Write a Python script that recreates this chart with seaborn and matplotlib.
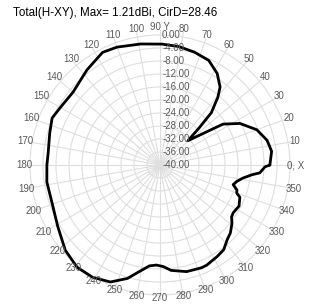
import numpy as np
import pandas as pd
import matplotlib
matplotlib.use("Agg")
import matplotlib.pyplot as plt
import seaborn as sns

# Pattern: angle (deg) and gain (dB)
angle_deg = [0, 7, 13, 20, 27.5, 33, 35.5, 41, 43.5, 45.5, 49.5, 52.4, 58, 65, 73, 81,
             89, 99, 110, 117, 127.5, 140, 150, 156.5, 164, 174, 180, 188.6, 199.4,
             211, 222, 231, 239, 247, 254, 259, 264, 268, 272, 276, 284, 292, 295,
             302, 307, 312, 316, 321, 324, 327, 332.5, 338, 340, 342, 345, 348, 351,
             354, 355.5, 359, 360]
gain_db = [-6.2, -5.4, -6.2, -8.3, -12.3, -16.9, -22.5, -28.6, -23.4, -17.5, -12.6,
           -9.7, -6.8, -4.5, -3.7, -3.1, -2.8, -2.3, -1.4, -1.1, -3.1, -5.1, -4.6,
           -3.8, -4.7, -5.4, -5.2, -4.8, -4.8, -3.3, -0.8, 0.5, 0.3, -0.9, -3.7,
           -6.6, -8.8, -9.2, -8.7, -7.4, -6.2, -5.9, -6.0, -6.8, -7.4, -9.1, -9.9,
           -11.5, -12.8, -13.1, -12.6, -13.5, -14.9, -15.1, -16.7, -15.8, -14.2,
           -11.5, -9.2, -7.7, -6.2]

r_ticks = [-40, -36, -32, -28, -24, -20, -16, -12, -8, -4, 0]
theta_ticks = list(range(0, 360, 10))
theta_labels = ["0, X" if a == 0 else ("90 Y" if a == 90 else str(a)) for a in theta_ticks]
title = "Total(H-XY), Max= 1.21dBi, CirD=28.46"

sns.set_style("white")
plt.rcParams["font.family"] = ["Liberation Sans", "DejaVu Sans"]

fig = plt.figure(figsize=(3.11, 3.05), dpi=100)
ax = fig.add_axes([0.0807, 0.0167, 0.8675, 0.8846], projection="polar")

df = pd.DataFrame({"theta": np.deg2rad(angle_deg), "gain": gain_db})
sns.lineplot(data=df, x="theta", y="gain", ax=ax, sort=False, color="black",
             linewidth=2.0, estimator=None)

ax.set_ylim(-40, 1.5)
ax.set_yticks(r_ticks[1:])
ax.set_xticks(np.deg2rad(theta_ticks))
ax.set_xticklabels([])
ax.set_yticklabels([])
ax.set_xlabel("")
ax.set_ylabel("")
ax.grid(True, color="#dedede", linewidth=0.8)
ax.spines["polar"].set_visible(False)

gray = "#5a5a5a"
for a, lab in zip(theta_ticks, theta_labels):
    t = np.deg2rad(a)
    # labels sit a little further out at the top than at the bottom
    ax.text(t, 1.8 + 0.8 * np.sin(t), lab, ha="center", va="center", fontsize=7,
            color=gray, clip_on=False)

for v in r_ticks:
    ax.annotate(f"{v:.2f}", xy=(np.pi / 2, v), xytext=(1.5, 0),
                textcoords="offset points", ha="left", va="center",
                fontsize=7, color=gray)

fig.text(0.042, 1 - 13 / 305, title, ha="left", va="center", fontsize=8.4,
         color="black")

plt.savefig("out.png", dpi=100)
